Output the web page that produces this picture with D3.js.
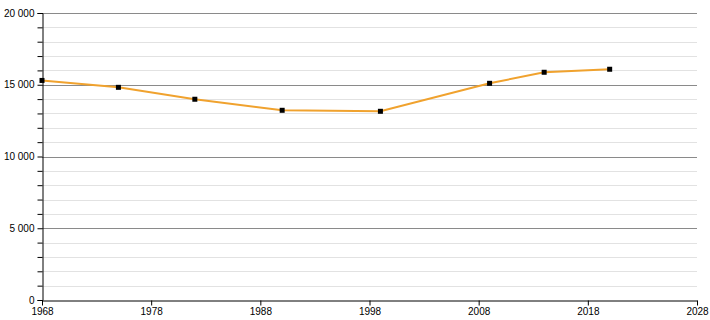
<!DOCTYPE html>
<html>
<head>
<meta charset="utf-8">
<script src="https://cdn.jsdelivr.net/npm/d3@7"></script>
<style>
  body { margin: 0; background: #fff; }
  svg { display: block; font-family: "Liberation Sans", Arial, sans-serif; }
</style>
</head>
<body>
<svg id="chart" width="710" height="320"></svg>
<script>
const years = [1968, 1975, 1982, 1990, 1999, 2009, 2014, 2020];
const population = [15300, 14820, 13990, 13220, 13150, 15100, 15870, 16080];
const xTicks = [1968, 1978, 1988, 1998, 2008, 2018, 2028];
const yMajor = [0, 5000, 10000, 15000, 20000];
const yMinor = d3.range(0, 20001, 1000);

const margin = { top: 13, right: 13, bottom: 20, left: 42 };
const width = 710, height = 320;
const svg = d3.select('#chart');

const x = d3.scaleLinear()
    .domain([1968, 2028])
    .range([margin.left, width - margin.right]);
const y = d3.scaleLinear()
    .domain([0, 20000])
    .range([height - margin.bottom, margin.top]);

const fmt = v => d3.format(',')(v).replace(/,/g, ' ');

// minor grid
svg.append('g')
    .selectAll('line')
    .data(yMinor.filter(v => v % 5000 !== 0))
    .join('line')
    .attr('x1', x(1968)).attr('x2', x(2028))
    .attr('y1', d => Math.round(y(d)) + 0.5).attr('y2', d => Math.round(y(d)) + 0.5)
    .attr('stroke', '#e2e2e2');

// major grid
svg.append('g')
    .selectAll('line')
    .data(yMajor.filter(v => v > 0))
    .join('line')
    .attr('x1', x(1968)).attr('x2', x(2028))
    .attr('y1', d => Math.round(y(d)) + 0.5).attr('y2', d => Math.round(y(d)) + 0.5)
    .attr('stroke', '#8a8a8a');

// y axis
const yAxis = svg.append('g')
    .attr('transform', `translate(${margin.left + 0.5},0)`)
    .call(d3.axisLeft(y).tickValues(yMinor).tickSize(5)
        .tickFormat(d => d % 5000 === 0 ? fmt(d) : ''));
yAxis.select('.domain').attr('stroke', '#000');
yAxis.selectAll('.tick line').attr('stroke', '#000');
yAxis.selectAll('text').attr('font-size', 10).attr('fill', '#000')
    .attr('font-family', '"Liberation Sans", Arial, sans-serif');

// x axis
const xAxis = svg.append('g')
    .attr('transform', `translate(0,${height - margin.bottom + 0.5})`)
    .call(d3.axisBottom(x).tickValues(xTicks).tickSize(5).tickSizeOuter(0)
        .tickFormat(d3.format('d')));
xAxis.select('.domain').attr('stroke', '#000');
xAxis.selectAll('.tick line').attr('stroke', '#000');
xAxis.selectAll('text').attr('font-size', 10).attr('fill', '#000')
    .attr('dy', '0.6em')
    .attr('font-family', '"Liberation Sans", Arial, sans-serif');

// line
const line = d3.line()
    .x((d, i) => x(years[i]))
    .y(d => y(d));
svg.append('path')
    .datum(population)
    .attr('fill', 'none')
    .attr('stroke', '#f0a22e')
    .attr('stroke-width', 2)
    .attr('d', line);

// markers
svg.append('g')
    .selectAll('rect')
    .data(population)
    .join('rect')
    .attr('x', (d, i) => x(years[i]) - 2.5)
    .attr('y', d => y(d) - 2.5)
    .attr('width', 5).attr('height', 5)
    .attr('fill', '#000');
</script>
</body>
</html>
